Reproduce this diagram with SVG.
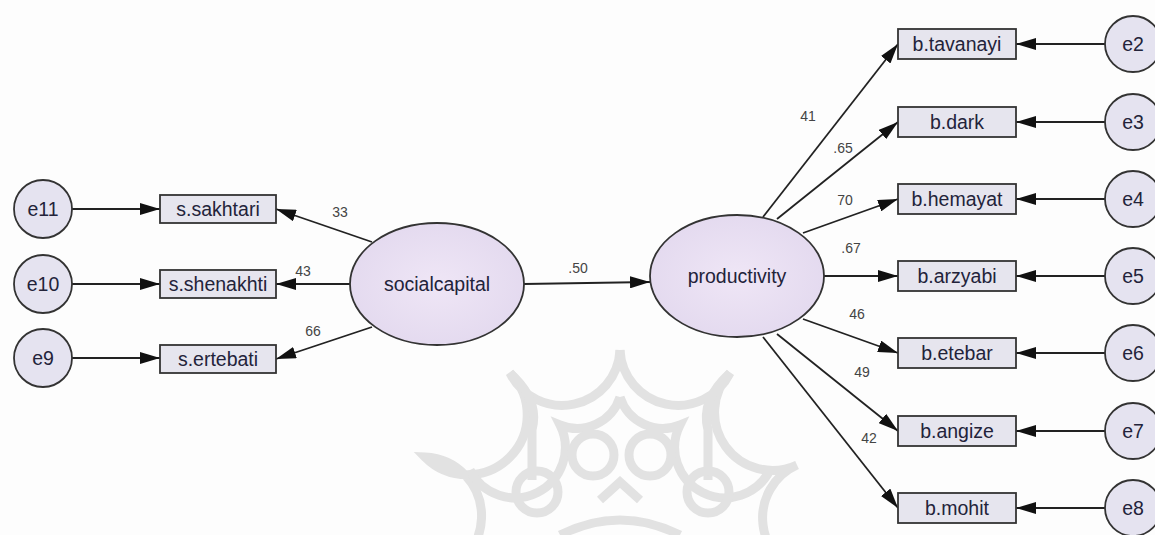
<svg xmlns="http://www.w3.org/2000/svg" width="1155" height="535" viewBox="0 0 1155 535">
<style>
.bg{fill:#fdfdfd}
.wm{fill:none;stroke:#e2e2e2;stroke-width:9}
.err circle{fill:#e5e3f0;stroke:#333;stroke-width:1.8}
.obs rect{fill:#e6e5ee;stroke:#333;stroke-width:1.8}
.lat ellipse{fill:url(#lg);stroke:#333;stroke-width:1.8}
text{font-family:"Liberation Sans",Arial,sans-serif;fill:#23233a}
.nt{font-size:19.5px;text-anchor:middle;dominant-baseline:central}
.cl{font-size:14px;fill:#444;text-anchor:middle;dominant-baseline:central}
#connectors line{stroke:#222;stroke-width:1.8;marker-end:url(#ah)}
</style>
<defs>
<radialGradient id="lg" cx="0.5" cy="0.5" r="0.6">
<stop offset="0" stop-color="#efe6f6"/>
<stop offset="1" stop-color="#e2d8ee"/>
</radialGradient>
<marker id="ah" viewBox="0 0 20 12" refX="20" refY="6" markerWidth="20" markerHeight="12" orient="auto" markerUnits="userSpaceOnUse">
<path d="M0,0 L20,6 L0,12 z" fill="#111"/>
</marker>
</defs>
<rect class="bg" x="0" y="0" width="1155" height="535"/>
<g id="watermark" class="wm">
<path d="M620,350 A58,58 0 0 1 510,373 A58,58 0 0 1 425,457 A58,58 0 0 1 420,575"/>
<path d="M620,350 A58,58 0 0 0 730,373 A58,58 0 0 0 797,465 A58,58 0 0 0 810,575"/>
<path d="M510,373 Q540,400 532,430 L532,480"/>
<path d="M730,373 Q700,400 708,430 L708,480"/>
<path d="M620,397 A45,45 0 0 1 560,425 A45,45 0 0 1 470,470"/>
<path d="M620,397 A45,45 0 0 0 680,425 A45,45 0 0 0 770,470"/>
<circle cx="593" cy="455" r="21"/>
<circle cx="650" cy="455" r="21"/>
<circle cx="537" cy="492" r="21"/>
<circle cx="708" cy="492" r="21"/>
<path d="M600,500 L620,482 L640,500"/>
<path d="M560,535 Q620,505 680,535"/>
</g>
<g id="connectors">
<line x1="72" y1="209" x2="160" y2="209"/>
<line x1="72" y1="284" x2="160" y2="284"/>
<line x1="72" y1="358" x2="160" y2="358"/>
<line x1="372" y1="242" x2="276" y2="209"/>
<line x1="350" y1="284" x2="276" y2="284"/>
<line x1="372" y1="327" x2="276" y2="359"/>
<line x1="524" y1="284" x2="650" y2="282"/>
<line x1="763" y1="217" x2="898" y2="44"/>
<line x1="777" y1="219" x2="898" y2="122"/>
<line x1="803" y1="233" x2="898" y2="199"/>
<line x1="824" y1="276" x2="898" y2="276"/>
<line x1="803" y1="319" x2="898" y2="353"/>
<line x1="777" y1="334" x2="898" y2="431"/>
<line x1="763" y1="337" x2="898" y2="508"/>
<line x1="1105" y1="44" x2="1016" y2="44"/>
<line x1="1105" y1="122" x2="1016" y2="122"/>
<line x1="1105" y1="199" x2="1016" y2="199"/>
<line x1="1105" y1="276" x2="1016" y2="276"/>
<line x1="1105" y1="353" x2="1016" y2="353"/>
<line x1="1105" y1="431" x2="1016" y2="431"/>
<line x1="1105" y1="508" x2="1016" y2="508"/>
</g>
<g id="coef">
<text class="cl" x="340" y="212">33</text>
<text class="cl" x="303" y="271">43</text>
<text class="cl" x="313" y="331">66</text>
<text class="cl" x="578" y="268">.50</text>
<text class="cl" x="808" y="116">41</text>
<text class="cl" x="843" y="148">.65</text>
<text class="cl" x="845" y="200">70</text>
<text class="cl" x="851" y="248">.67</text>
<text class="cl" x="857" y="314">46</text>
<text class="cl" x="862" y="372">49</text>
<text class="cl" x="869" y="438">42</text>
</g>
<g id="e11" class="err"><circle cx="43" cy="209" r="29"/><text class="nt" x="43" y="209">e11</text></g>
<g id="e10" class="err"><circle cx="43" cy="284" r="29"/><text class="nt" x="43" y="284">e10</text></g>
<g id="e9" class="err"><circle cx="43" cy="358" r="29"/><text class="nt" x="43" y="358">e9</text></g>
<g id="s_sakhtari" class="obs"><rect x="160" y="195" width="116" height="28"/><text class="nt" x="218" y="209">s.sakhtari</text></g>
<g id="s_shenakhti" class="obs"><rect x="160" y="270" width="116" height="28"/><text class="nt" x="218" y="284">s.shenakhti</text></g>
<g id="s_ertebati" class="obs"><rect x="160" y="345" width="116" height="28"/><text class="nt" x="218" y="359">s.ertebati</text></g>
<g id="socialcapital" class="lat"><ellipse cx="437" cy="284" rx="87" ry="61"/><text class="nt" x="437" y="284">socialcapital</text></g>
<g id="productivity" class="lat"><ellipse cx="737" cy="276" rx="87" ry="61"/><text class="nt" x="737" y="276">productivity</text></g>
<g id="b_tavanayi" class="obs"><rect x="898" y="29" width="118" height="30"/><text class="nt" x="957" y="44">b.tavanayi</text></g>
<g id="b_dark" class="obs"><rect x="898" y="107" width="118" height="30"/><text class="nt" x="957" y="122">b.dark</text></g>
<g id="b_hemayat" class="obs"><rect x="898" y="184" width="118" height="30"/><text class="nt" x="957" y="199">b.hemayat</text></g>
<g id="b_arzyabi" class="obs"><rect x="898" y="261" width="118" height="30"/><text class="nt" x="957" y="276">b.arzyabi</text></g>
<g id="b_etebar" class="obs"><rect x="898" y="338" width="118" height="30"/><text class="nt" x="957" y="353">b.etebar</text></g>
<g id="b_angize" class="obs"><rect x="898" y="416" width="118" height="30"/><text class="nt" x="957" y="431">b.angize</text></g>
<g id="b_mohit" class="obs"><rect x="898" y="493" width="118" height="30"/><text class="nt" x="957" y="508">b.mohit</text></g>
<g id="e2" class="err"><circle cx="1133" cy="44" r="28"/><text class="nt" x="1133" y="44">e2</text></g>
<g id="e3" class="err"><circle cx="1133" cy="122" r="28"/><text class="nt" x="1133" y="122">e3</text></g>
<g id="e4" class="err"><circle cx="1133" cy="199" r="28"/><text class="nt" x="1133" y="199">e4</text></g>
<g id="e5" class="err"><circle cx="1133" cy="276" r="28"/><text class="nt" x="1133" y="276">e5</text></g>
<g id="e6" class="err"><circle cx="1133" cy="353" r="28"/><text class="nt" x="1133" y="353">e6</text></g>
<g id="e7" class="err"><circle cx="1133" cy="431" r="28"/><text class="nt" x="1133" y="431">e7</text></g>
<g id="e8" class="err"><circle cx="1133" cy="508" r="28"/><text class="nt" x="1133" y="508">e8</text></g>
</svg>
